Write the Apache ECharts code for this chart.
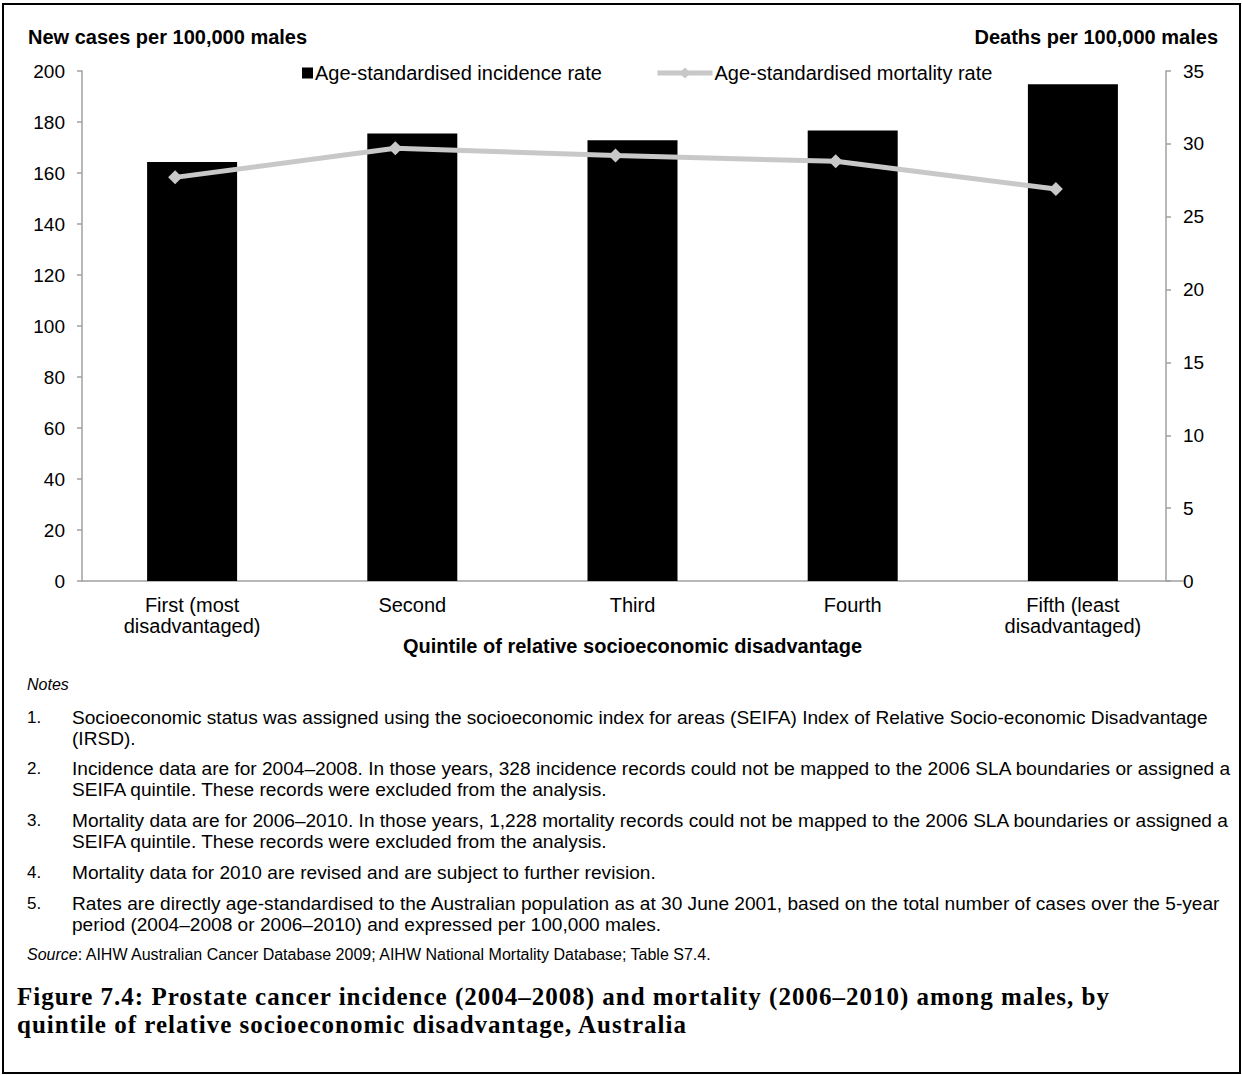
<!DOCTYPE html>
<html>
<head>
<meta charset="utf-8">
<script src="https://cdn.jsdelivr.net/npm/echarts@6/dist/echarts.min.js"></script>
<style>
  html, body { margin: 0; padding: 0; background: #fff; }
  #wrap { position: relative; width: 1242px; height: 1075px; overflow: hidden; font-family: "Liberation Sans", Arial, sans-serif; color: #000; }
  #chart { position: absolute; left: 0; top: 0; width: 1242px; height: 680px; }
  #frame { position: absolute; left: 2px; top: 3px; width: 1239px; height: 1071px; box-sizing: border-box; border: 2px solid #000; pointer-events: none; }
  .t { position: absolute; white-space: nowrap; font-size: 16px; line-height: 21px; }
  .k { position: absolute; white-space: nowrap; font-size: 17px; line-height: 21px; left: 27px; }
  .n { position: absolute; white-space: nowrap; font-size: 19.1px; line-height: 21px; left: 72px; }
  .cap { position: absolute; left: 17px; font-family: "Liberation Serif", "DejaVu Serif", serif; font-weight: bold; font-size: 25px; letter-spacing: 1px; line-height: 28px; white-space: nowrap; }
</style>
</head>
<body>
<div id="wrap">
  <div id="chart"></div>
  <div class="t" style="left:27px; top:674px; font-style:italic;">Notes</div>

  <div class="k" style="top:707px;">1.</div>
  <div class="n" style="top:707px;">Socioeconomic status was assigned using the socioeconomic index for areas (SEIFA) Index of Relative Socio-economic Disadvantage<br>(IRSD).</div>

  <div class="k" style="top:758px;">2.</div>
  <div class="n" style="top:758px;">Incidence data are for 2004–2008. In those years, 328 incidence records could not be mapped to the 2006 SLA boundaries or assigned a<br>SEIFA quintile. These records were excluded from the analysis.</div>

  <div class="k" style="top:810px;">3.</div>
  <div class="n" style="top:810px;">Mortality data are for 2006–2010. In those years, 1,228 mortality records could not be mapped to the 2006 SLA boundaries or assigned a<br>SEIFA quintile. These records were excluded from the analysis.</div>

  <div class="k" style="top:862px;">4.</div>
  <div class="n" style="top:862px;">Mortality data for 2010 are revised and are subject to further revision.</div>

  <div class="k" style="top:893px;">5.</div>
  <div class="n" style="top:893px;">Rates are directly age-standardised to the Australian population as at 30 June 2001, based on the total number of cases over the 5-year<br>period (2004–2008 or 2006–2010) and expressed per 100,000 males.</div>

  <div class="t" style="left:27px; top:944px;"><i>Source</i>: AIHW Australian Cancer Database 2009; AIHW National Mortality Database; Table S7.4.</div>

  <div class="cap" style="top:983px;">Figure 7.4: Prostate cancer incidence (2004–2008) and mortality (2006–2010) among males, by<br>quintile of relative socioeconomic disadvantage, Australia</div>
  <div id="frame"></div>
</div>
<script>
// ---- data ----
var categories = ['First (most\ndisadvantaged)', 'Second', 'Third', 'Fourth', 'Fifth (least\ndisadvantaged)'];
var incidenceRate = [164.3, 175.5, 172.8, 176.7, 194.8];
var mortalityRate = [27.7, 29.7, 29.2, 28.8, 26.9];
var leftTicks = { min: 0, max: 200, interval: 20 };
var rightTicks = { min: 0, max: 35, interval: 5 };
var incidenceName = 'Age-standardised incidence rate';
var mortalityName = 'Age-standardised mortality rate';

var FONT = '"Liberation Sans", Arial, sans-serif';
var AXIS_GREY = '#A0A0A0';
var LINE_GREY = '#C8C8C8';

var chart = echarts.init(document.getElementById('chart'), null, { renderer: 'svg' });
chart.setOption({
  animation: false,
  backgroundColor: 'transparent',
  textStyle: { fontFamily: FONT, color: '#000' },
  title: [
    { text: 'New cases per 100,000 males', left: 23, top: 22,
      textStyle: { fontFamily: FONT, fontWeight: 'bold', fontSize: 20, color: '#000' } },
    { text: 'Deaths per 100,000 males', right: 19, top: 22,
      textStyle: { fontFamily: FONT, fontWeight: 'bold', fontSize: 20, color: '#000' } }
  ],
  legend: [
    { data: [incidenceName], left: 302, top: 63, padding: 0, icon: 'rect', itemWidth: 11, itemHeight: 11,
      textStyle: { fontFamily: FONT, fontSize: 20, color: '#000', padding: [0, 0, 0, -3] } },
    { data: [mortalityName], left: 655, top: 63, padding: 0, itemWidth: 55, itemHeight: 14,
      lineStyle: { width: 5, color: LINE_GREY },
      textStyle: { fontFamily: FONT, fontSize: 20, color: '#000', padding: [0, 0, 0, -3] } }
  ],
  grid: [
    { left: 82, right: 59, top: 71, height: 510, containLabel: false },
    { left: 65, right: 76, top: 71, height: 510, containLabel: false }
  ],
  xAxis: [
    { type: 'category', gridIndex: 0, data: categories,
      axisLine: { show: true, lineStyle: { color: AXIS_GREY, width: 1.5 } },
      axisTick: { show: false },
      axisLabel: { fontFamily: FONT, fontSize: 20, color: '#000', lineHeight: 21, margin: 13, interval: 0 },
      name: 'Quintile of relative socioeconomic disadvantage', nameLocation: 'middle', nameGap: 55,
      nameMoveOverlap: false,
      nameTextStyle: { fontFamily: FONT, fontWeight: 'bold', fontSize: 20, color: '#000' } },
    { type: 'category', gridIndex: 1, data: categories, show: false }
  ],
  yAxis: [
    { type: 'value', gridIndex: 0, position: 'left', min: leftTicks.min, max: leftTicks.max, interval: leftTicks.interval,
      axisLine: { show: true, lineStyle: { color: AXIS_GREY, width: 1.5 } },
      axisTick: { show: true, length: 5, lineStyle: { color: AXIS_GREY, width: 1.5 } },
      splitLine: { show: false },
      axisLabel: { fontFamily: FONT, fontSize: 19, color: '#000', margin: 17 } },
    { type: 'value', gridIndex: 1, position: 'right', min: rightTicks.min, max: rightTicks.max, interval: rightTicks.interval,
      axisLine: { show: true, lineStyle: { color: AXIS_GREY, width: 1.5 } },
      axisTick: { show: true, length: 5, lineStyle: { color: AXIS_GREY, width: 1.5 } },
      splitLine: { show: false },
      axisLabel: { fontFamily: FONT, fontSize: 19, color: '#000', margin: 17 } }
  ],
  series: [
    { name: incidenceName, type: 'bar', xAxisIndex: 0, yAxisIndex: 0, data: incidenceRate,
      barWidth: 90, itemStyle: { color: '#000' } },
    { name: mortalityName, type: 'line', xAxisIndex: 1, yAxisIndex: 1, data: mortalityRate,
      symbol: 'diamond', symbolSize: 14, showSymbol: true,
      lineStyle: { color: LINE_GREY, width: 5 }, itemStyle: { color: LINE_GREY } }
  ]
});
</script>
</body>
</html>
